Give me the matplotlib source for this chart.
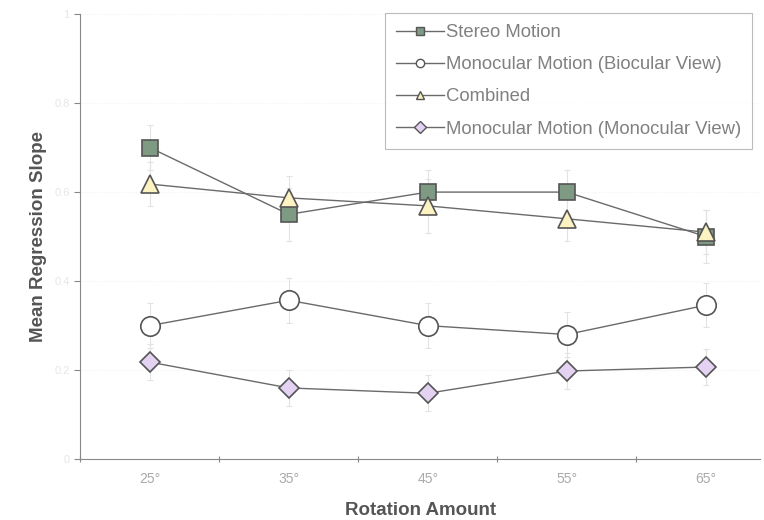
import matplotlib.pyplot as plt
import numpy as np

plt.rcParams['font.family'] = ['Liberation Sans', 'DejaVu Sans']

rotations = ['25°', '35°', '45°', '55°', '65°']
stereo = [0.70, 0.55, 0.60, 0.60, 0.50]
mono_bio = [0.30, 0.357, 0.30, 0.28, 0.346]
combined = [0.618, 0.587, 0.569, 0.540, 0.510]
mono_mono = [0.218, 0.160, 0.148, 0.198, 0.207]

stereo_err = [0.05, 0.06, 0.05, 0.05, 0.06]
mono_bio_err = [0.05, 0.05, 0.05, 0.05, 0.05]
combined_err = [0.05, 0.05, 0.06, 0.05, 0.05]
mono_mono_err = [0.04, 0.04, 0.04, 0.04, 0.04]

yticks = [0, 0.2, 0.4, 0.6, 0.8, 1.0]

fig = plt.figure(figsize=(7.64, 5.2), dpi=100)
ax = fig.add_axes([0.105, 0.117, 0.89, 0.856])

x = np.arange(len(rotations))
line_col = '#6a6a6a'
series = [
    (stereo, stereo_err, 's', '#7f9a82', 11, 'Stereo Motion'),
    (mono_bio, mono_bio_err, 'o', 'white', 14, 'Monocular Motion (Biocular View)'),
    (combined, combined_err, '^', '#fdf3c2', 13, 'Combined'),
    (mono_mono, mono_mono_err, 'D', '#e3d2f2', 10, 'Monocular Motion (Monocular View)'),
]

handles = []
for vals, err, mk, fc, ms, lab in series:
    ax.errorbar(x, vals, yerr=err, fmt='none', ecolor='#e2e2e2', elinewidth=0.8,
                capsize=2, capthick=0.8, zorder=1)
    ax.plot(x, vals, color=line_col, lw=1.0, zorder=2)
    ax.plot(x, vals, linestyle='none', marker=mk, markersize=ms, markerfacecolor=fc,
            markeredgecolor='#555555', markeredgewidth=1.2, zorder=3)
    h, = ax.plot([], [], color=line_col, lw=1.0, marker=mk, markersize=6,
                 markerfacecolor=fc, markeredgecolor='#555555', markeredgewidth=1.0)
    handles.append((h, lab))

ax.set_xlim(-0.5, 4.39)
ax.set_ylim(0, 1.0)

ax.set_yticks(yticks)
ax.set_yticklabels([f'{t:g}' for t in yticks], color='#e6e6e6', fontsize=8)
ax.yaxis.grid(True, color='#f2f2f2', linestyle=':', lw=0.8)
ax.set_axisbelow(True)

ax.set_xticks(np.arange(-0.5, 4.5, 1.0))
ax.set_xticklabels([])
ax.set_xticks(x, minor=True)
ax.set_xticklabels(rotations, minor=True, color='#aaaaaa', fontsize=10)
ax.tick_params(axis='x', which='minor', length=0, pad=9)
ax.tick_params(axis='x', which='major', direction='inout', length=5, color='#888888')
ax.tick_params(axis='y', direction='out', length=4, color='#888888')

for s in ['top', 'right']:
    ax.spines[s].set_visible(False)
for s in ['left', 'bottom']:
    ax.spines[s].set_color('#888888')
    ax.spines[s].set_linewidth(0.8)

ax.set_xlabel('Rotation Amount', fontsize=13.5, fontweight='bold', color='#555555', labelpad=12)
ax.set_ylabel('Mean Regression Slope', fontsize=13.5, fontweight='bold', color='#555555', labelpad=5)

leg = ax.legend([h for h, _ in handles], [l for _, l in handles], loc='upper right',
                bbox_to_anchor=(752 / 764, 1 - 13 / 520), bbox_transform=fig.transFigure,
                borderaxespad=0, fontsize=13.3, frameon=True, fancybox=False,
                handlelength=2.6, handletextpad=0.1, labelspacing=0.82, borderpad=0.6)
leg.get_frame().set_edgecolor('#aaaaaa')
leg.get_frame().set_linewidth(0.8)
for t in leg.get_texts():
    t.set_color('#808080')

fig.savefig('out.png', dpi=100)
